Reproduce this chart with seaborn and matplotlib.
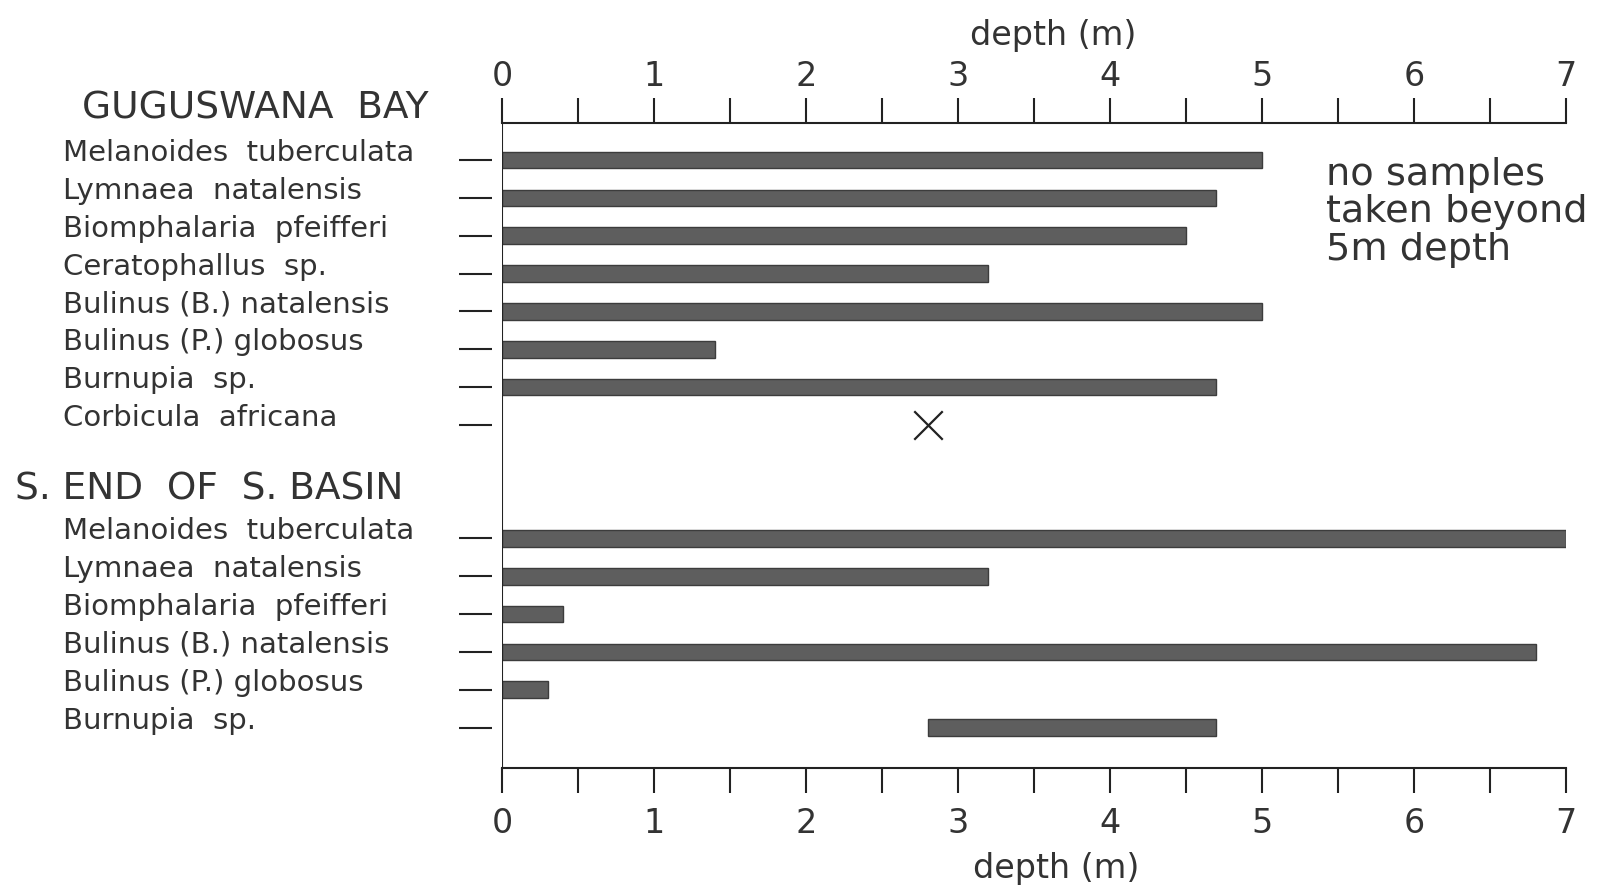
import numpy as np
import pandas as pd
import matplotlib
matplotlib.use("Agg")
import matplotlib.pyplot as plt
import matplotlib.transforms as mtransforms
from matplotlib.ticker import MultipleLocator
import seaborn as sns

sns.set_style("white")
plt.rcParams['font.family'] = ['DejaVu Sans']

# --- data -------------------------------------------------------------
site_names = ["GUGUSWANA  BAY", "S. END  OF  S. BASIN"]

gug_species = ["Melanoides  tuberculata", "Lymnaea  natalensis",
               "Biomphalaria  pfeifferi", "Ceratophallus  sp.",
               "Bulinus (B.) natalensis", "Bulinus (P.) globosus",
               "Burnupia  sp.", "Corbicula  africana"]
gug_start = [0, 0, 0, 0, 0, 0, 0, np.nan]
gug_end = [5.0, 4.7, 4.5, 3.2, 5.0, 1.4, 4.7, np.nan]
corbicula_depth = [2.8]          # single record, drawn as a cross

send_species = ["Melanoides  tuberculata", "Lymnaea  natalensis",
                "Biomphalaria  pfeifferi", "Bulinus (B.) natalensis",
                "Bulinus (P.) globosus", "Burnupia  sp."]
send_start = [0, 0, 0, 0, 0, 2.8]
send_end = [7.0, 3.2, 0.4, 6.8, 0.3, 4.7]

note = "no samples\ntaken beyond\n5m depth"

# rows: first site 0..7, gap, second site 10..15
gug_rows = list(range(len(gug_species)))
send_rows = list(range(10, 10 + len(send_species)))

df = pd.DataFrame({
    "species": gug_species + send_species,
    "row": gug_rows + send_rows,
    "start": gug_start + send_start,
    "end": gug_end + send_end,
})
df["width"] = df["end"] - df["start"]
bars = df.dropna()

# --- plot -------------------------------------------------------------
fig = plt.figure(figsize=(16.08, 8.87), dpi=100)
ax = fig.add_axes([0.3122, 0.1330, 0.6617, 0.7272])

ax.barh(bars["row"], bars["width"], left=bars["start"], height=0.44,
        color="#5e5e5e", edgecolor="#3c3c3c", linewidth=1.0)

sns.scatterplot(x=corbicula_depth, y=[gug_rows[-1]], marker="x", s=420,
                color="#222222", linewidth=1.6, ax=ax, zorder=5)

ax.set_xlim(0, 7)
ax.set_ylim(16.07, -0.98)

# x axis, bottom and top
ax.xaxis.set_major_locator(MultipleLocator(1))
ax.xaxis.set_minor_locator(MultipleLocator(0.5))
ax.tick_params(axis="x", which="both", direction="out", length=18,
               width=1.5, color="#222222", bottom=True, top=False,
               labelsize=24, labelcolor="#333333", pad=9)
ax.set_xlabel("depth (m)", fontsize=24, color="#333333")
ax.xaxis.set_label_coords(0.521, -0.128)

top = ax.secondary_xaxis("top")
top.xaxis.set_major_locator(MultipleLocator(1))
top.xaxis.set_minor_locator(MultipleLocator(0.5))
top.tick_params(axis="x", which="both", direction="out", length=18,
                width=1.5, color="#222222", labelsize=24,
                labelcolor="#333333", pad=4)
top.set_xlabel("depth (m)", fontsize=24, color="#333333")
top.xaxis.set_label_coords(0.518, 1.122, transform=ax.transAxes)
top.spines["top"].set_linewidth(1.5)
top.spines["top"].set_color("#222222")

# y axis: short detached dashes, label text drawn left-aligned
ax.spines["left"].set_position(("outward", 7))
ax.spines["left"].set_visible(False)
ax.spines["right"].set_visible(False)
ax.spines["top"].set_visible(False)
ax.spines["bottom"].set_linewidth(1.5)
ax.spines["bottom"].set_color("#222222")
ax.axvline(0, color="#222222", linewidth=1.5)

ax.set_yticks(gug_rows + send_rows)
ax.set_yticklabels([])
ax.tick_params(axis="y", direction="out", length=24, width=1.5,
               color="#222222", left=True)
ax.set_ylabel("")

trans = mtransforms.blended_transform_factory(ax.transAxes, ax.transData)
for name, row in zip(df["species"], df["row"]):
    ax.text(-0.4127, row, name, transform=trans, ha="left", va="baseline",
            fontsize=21, color="#333333")

ax.text(-0.395, -1.40, site_names[0], transform=trans, ha="left",
        va="center", fontsize=27, color="#333333")
ax.text(-0.458, 8.69, site_names[1], transform=trans, ha="left",
        va="center", fontsize=27, color="#333333")

ax.text(5.42, -0.12, note, ha="left", va="top", fontsize=27.5,
        color="#333333", linespacing=1.06)

fig.savefig("out.png", dpi=100, facecolor="white")
